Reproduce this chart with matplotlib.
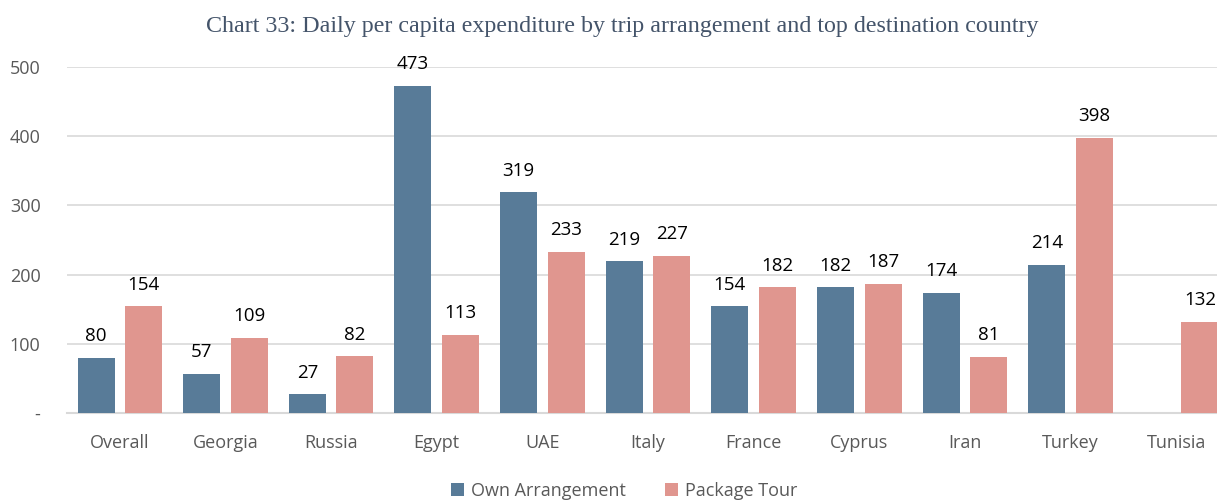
import numpy as np
import matplotlib.pyplot as plt

countries = ['Overall', 'Georgia', 'Russia', 'Egypt', 'UAE', 'Italy', 'France',
             'Cyprus', 'Iran', 'Turkey', 'Tunisia']
own = [80, 57, 27, 473, 319, 219, 154, 182, 174, 214, np.nan]
package = [154, 109, 82, 113, 233, 227, 182, 187, 81, 398, 132]
yticks = [0, 100, 200, 300, 400, 500]
yticklabels = ['-', '100', '200', '300', '400', '500']

c_own = '#587B98'
c_pkg = '#E0968F'
font = 'Open Sans'

fig = plt.figure(figsize=(12.17, 5), dpi=100)
ax = fig.add_axes([67/1217, 87/500, 1162/1217, 346/500])

x = np.arange(len(countries))
w = 0.35
off = 0.225
ax.bar(x - off, own, w, color=c_own, label='Own Arrangement', zorder=3)
ax.bar(x + off, package, w, color=c_pkg, label='Package Tour', zorder=3)

for xs, vals in ((x - off, own), (x + off, package)):
    for xi, v in zip(xs, vals):
        if np.isnan(v):
            continue
        ax.annotate('%d' % v, (xi, v), xytext=(0, 9), textcoords='offset points',
                    ha='center', va='bottom', fontsize=13.5, family=font,
                    color='black', annotation_clip=False)

ax.set_xlim(-0.5, len(countries) - 0.5)
ax.set_ylim(0, 500)
ax.set_yticks(yticks)
ax.set_yticklabels(yticklabels, family=font, fontsize=13, color='#595959')
ax.set_xticks(x)
ax.set_xticklabels(countries, family=font, fontsize=13, color='#595959')
ax.tick_params(axis='both', length=0)
ax.tick_params(axis='y', pad=19)
ax.tick_params(axis='x', pad=15)
ax.grid(axis='y', color='#D9D9D9', linewidth=1.2, zorder=0)
for s in ['top', 'right', 'left']:
    ax.spines[s].set_visible(False)
ax.spines['bottom'].set_color('#D9D9D9')
ax.spines['bottom'].set_linewidth(1.5)

fig.text(0.5115, 0.947, 'Chart 33: Daily per capita expenditure by trip arrangement and top destination country',
         ha='center', va='center', family='Liberation Serif', fontsize=17.3, color='#44546A')

fig.legend(loc='center', bbox_to_anchor=(0.513, 0.018), ncol=2, frameon=False,
           prop={'family': font, 'size': 13}, labelcolor='#595959',
           handlelength=0.7, handleheight=0.7, columnspacing=2.2, handletextpad=0.4)

fig.savefig('out.png', dpi=100)
